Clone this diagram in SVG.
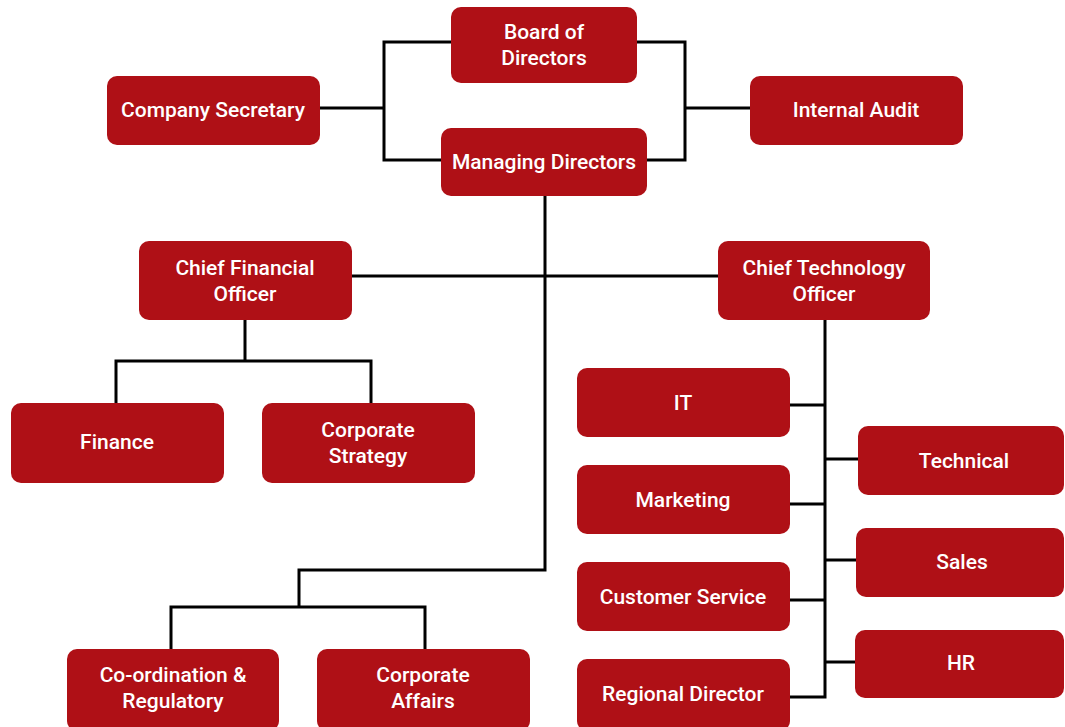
<svg xmlns="http://www.w3.org/2000/svg" width="1065" height="727" viewBox="0 0 1065 727">
<style>
.box{fill:#AF1016;}
.t{fill:#ffffff;font-family:Roboto,"Liberation Sans",sans-serif;font-weight:500;font-size:21px;text-anchor:middle;dominant-baseline:central;}
.c{fill:none;stroke:#000;stroke-width:3;}
</style>
<rect width="1065" height="727" fill="#ffffff"/>
<g id="connectors">
<path class="c" d="M320,108 H384 M451,42 H384 V160 H441"/>
<path class="c" d="M637,42 H685 V160 H647 M685,108 H750"/>
<path class="c" d="M545,196 V570 H299 V607 M171,649 V607 H425 V649"/>
<path class="c" d="M352,276 H718"/>
<path class="c" d="M245,320 V361 M116,403 V361 H371 V403"/>
<path class="c" d="M825,320 V697 H790 M790,405 H825 M790,504 H825 M790,600 H825 M825,459 H858 M825,560 H856 M825,662 H855"/>
</g>
<g id="board"><rect class="box" x="451" y="7" width="186" height="76" rx="10"/><text class="t" x="544" y="32">Board of</text><text class="t" x="544" y="58">Directors</text></g>
<g id="company-secretary"><rect class="box" x="107" y="76" width="213" height="69" rx="10"/><text class="t" x="213" y="110">Company Secretary</text></g>
<g id="managing-directors"><rect class="box" x="441" y="128" width="206" height="68" rx="10"/><text class="t" x="544" y="162">Managing Directors</text></g>
<g id="internal-audit"><rect class="box" x="750" y="76" width="213" height="69" rx="10"/><text class="t" x="856" y="110">Internal Audit</text></g>
<g id="cfo"><rect class="box" x="139" y="241" width="213" height="79" rx="10"/><text class="t" x="245" y="268">Chief Financial</text><text class="t" x="245" y="294">Officer</text></g>
<g id="cto"><rect class="box" x="718" y="241" width="212" height="79" rx="10"/><text class="t" x="824" y="268">Chief Technology</text><text class="t" x="824" y="294">Officer</text></g>
<g id="finance"><rect class="box" x="11" y="403" width="213" height="80" rx="10"/><text class="t" x="117" y="442">Finance</text></g>
<g id="corporate-strategy"><rect class="box" x="262" y="403" width="213" height="80" rx="10"/><text class="t" x="368" y="430">Corporate</text><text class="t" x="368" y="456">Strategy</text></g>
<g id="coordination"><rect class="box" x="67" y="649" width="212" height="82" rx="10"/><text class="t" x="173" y="675">Co-ordination &amp;</text><text class="t" x="173" y="701">Regulatory</text></g>
<g id="corporate-affairs"><rect class="box" x="317" y="649" width="213" height="82" rx="10"/><text class="t" x="423" y="675">Corporate</text><text class="t" x="423" y="701">Affairs</text></g>
<g id="it"><rect class="box" x="577" y="368" width="213" height="69" rx="10"/><text class="t" x="683" y="403">IT</text></g>
<g id="marketing"><rect class="box" x="577" y="465" width="213" height="69" rx="10"/><text class="t" x="683" y="500">Marketing</text></g>
<g id="customer-service"><rect class="box" x="577" y="562" width="213" height="69" rx="10"/><text class="t" x="683" y="597">Customer Service</text></g>
<g id="regional-director"><rect class="box" x="577" y="659" width="213" height="72" rx="10"/><text class="t" x="683" y="694">Regional Director</text></g>
<g id="technical"><rect class="box" x="858" y="426" width="206" height="69" rx="10"/><text class="t" x="964" y="461">Technical</text></g>
<g id="sales"><rect class="box" x="856" y="528" width="208" height="69" rx="10"/><text class="t" x="962" y="562">Sales</text></g>
<g id="hr"><rect class="box" x="855" y="630" width="209" height="68" rx="10"/><text class="t" x="961" y="663">HR</text></g>
</svg>
